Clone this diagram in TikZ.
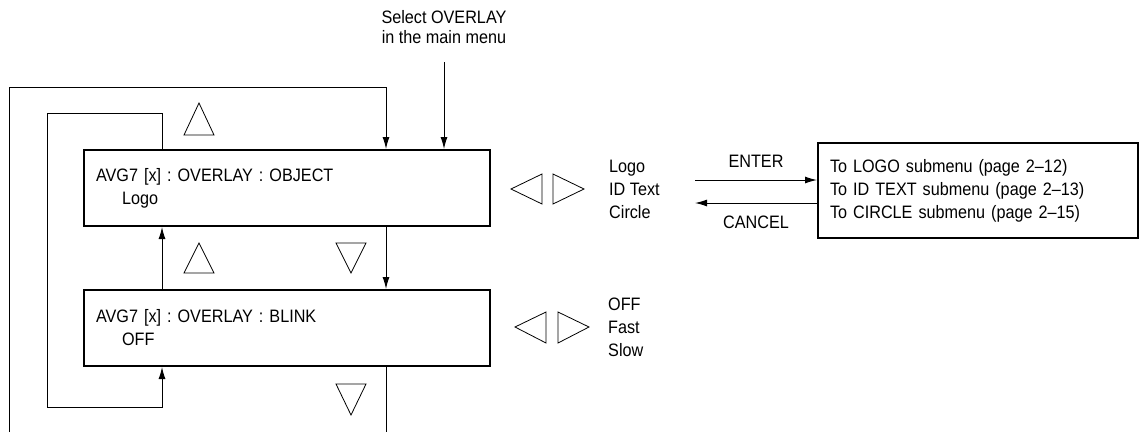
\documentclass[tikz,border=0pt]{standalone}
\usepackage{fontspec}
\setmainfont{Liberation Sans}[FakeStretch=0.9]
\usetikzlibrary{arrows.meta,positioning}
\frenchspacing

\begin{document}
\begin{tikzpicture}[
  x=1pt,y=-1pt,
  font=\fontsize{18}{23}\selectfont,
  menu/.style={draw,line width=2pt,align=left,text width=382pt,inner xsep=12pt,
    minimum width=406pt,minimum height=76pt},
  sub/.style={draw,line width=2pt,align=left,text width=296pt,inner xsep=12pt,
    minimum width=320pt,minimum height=95pt},
  lbl/.style={align=left,inner sep=0pt,anchor=west},
  a/.style={-{Latex[length=12pt,width=7pt]},line width=1pt},
  ln/.style={line width=1pt},
  tri/.style={line width=0.8pt,line join=miter}
]
\useasboundingbox (0,0) rectangle (1139,432);

% menu boxes
\node[menu] (object) at (287,188) {AVG7 [x] : OVERLAY : OBJECT\\\hspace*{26pt}Logo};
\node[menu] (blink) at (287,328) {AVG7 [x] : OVERLAY : BLINK\\\hspace*{26pt}OFF};
\node[sub] (submenu) at (978,190.5) {To LOGO submenu (page 2--12)\\To ID TEXT submenu (page 2--13)\\To CIRCLE submenu (page 2--15)};

% choices
\node[lbl] (objlist) at (609,189) {Logo\\ID Text\\Circle};
\node[lbl] (blinklist) at (608,327) {OFF\\Fast\\Slow};
\node[align=center,font=\fontsize{18}{20}\selectfont] (select) at (444,27) {Select OVERLAY\\in the main menu};

\coordinate (selectend) at (444,62);
\coordinate (upx) at (162,0);
\coordinate (downx) at (386,432);
\coordinate (outer) at (9,432);
\coordinate (entergo) at (695,180);
\coordinate (cancelback) at (695,203);

% connectors
\draw[a] (selectend) -- (selectend |- object.north);
\draw[a] (outer) -- (9,87) -| (object.north -| downx);
\draw[a] (object.north -| upx) |- (47,113) -- (47,407) -| (blink.south -| upx);
\draw[a] (blink.north -| upx) -- (object.south -| upx);
\draw[a] (object.south -| downx) -- (blink.north -| downx);
\draw[ln] (blink.south -| downx) -- (downx);
\draw[a] (entergo) -- node[above=9pt] {ENTER} (entergo -| submenu.west);
\draw[a] (cancelback -| submenu.west) -- node[below=9pt] {CANCEL} (cancelback);

% key triangles
\draw[tri] (199,103) -- ++(15,32) -- ++(-30,0) -- cycle;
\draw[tri] (199,243) -- ++(15,30) -- ++(-30,0) -- cycle;
\draw[tri] (351,273) -- ++(15,-30) -- ++(-30,0) -- cycle;
\draw[tri] (351,415) -- ++(15,-31) -- ++(-30,0) -- cycle;
\draw[tri] (511,189) -- ++(31,-15) -- ++(0,30) -- cycle;
\draw[tri] (584,189) -- ++(-31,-15) -- ++(0,30) -- cycle;
\draw[tri] (515,327) -- ++(31,-15) -- ++(0,31) -- cycle;
\draw[tri] (589,327) -- ++(-31,-15) -- ++(0,31) -- cycle;
\end{tikzpicture}
\end{document}
